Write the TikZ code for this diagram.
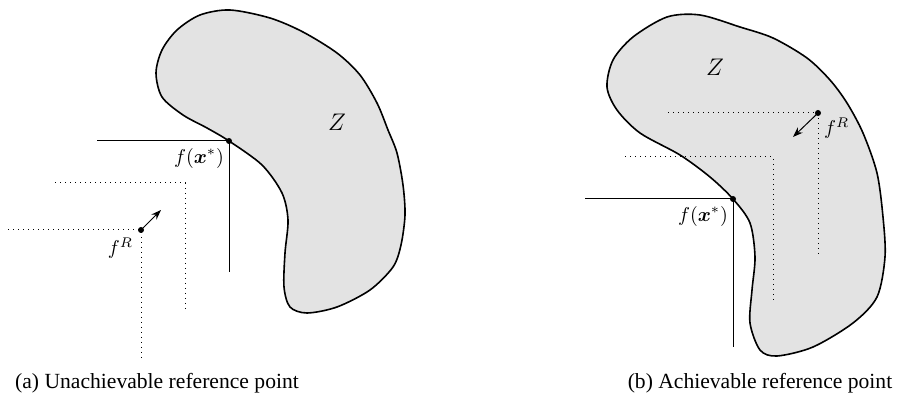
\documentclass[tikz,border=0pt]{standalone}
\usepackage{amsmath, amssymb}
\usepackage{fontspec}
\newfontfamily\capfont{Liberation Serif}
\usepackage{tikz}
\usetikzlibrary{positioning, calc, arrows.meta}
\newcommand{\fopt}{f(\boldsymbol{x}^*)}
\newcommand{\fref}{f^R}

\begin{document}
\begin{tikzpicture}[
  x=0.5pt, y=-0.5pt,
  every node/.style={font=\normalsize},
  region/.style={draw, line width=0.8pt, fill=black!11},
  dot/.style={circle, fill=black, inner sep=0pt, minimum size=3pt},
  bound/.style={line width=0.5pt},
  cone/.style={dotted, line width=0.5pt},
  move/.style={-{Stealth[length=5pt, width=3.6pt]}, line width=0.5pt},
  zlab/.style={font=\fontsize{13}{15}\selectfont},
  subcap/.style={font=\capfont\fontsize{10.8}{12}\selectfont},
]
  \useasboundingbox (0,0) rectangle (916,405);

  % (a) unachievable reference point
  \draw[region] plot[smooth cycle, tension=0.5] coordinates {
    (230,10) (270,18) (303,32) (337,53) (360,75) (377,103) (388,130)
    (397,153) (403,185) (405,215) (401,245) (393,267) (370,290) (337,307)
    (307,313) (290,307) (284,287) (285,253) (288,220) (282,193) (262,165)
    (229,141) (207,128) (183,115) (162,97) (156,73) (162,50) (177,30) (200,15)};
  \node[zlab] (za) at (337,122) {$Z$};

  \node[dot] (xa) at (229,141) {};
  \coordinate (xah) at (97,141);
  \coordinate (xav) at (229,272);
  \draw[bound] (xah) -- (xa.center) -- (xav);
  \node[anchor=north east] (xalab) at ([xshift=1pt]xa.center) {$\fopt$};

  \node[dot] (ra) at (141,230) {};
  \coordinate (rah) at (8,230);
  \coordinate (rav) at (141,358);
  \draw[cone] (rah) -- (ra.center) -- (rav);
  \coordinate (sa) at (185,183);
  \draw[cone] (55,183) -- (sa) -- (185,310);
  \coordinate (ta) at (161,210);
  \draw[move] (ra.center) -- (ta);
  \node[anchor=north east] (ralab) at ([xshift=-0.5pt, yshift=-0.5pt]ra.center) {$\fref$};

  % (b) achievable reference point
  \draw[region] plot[smooth cycle, tension=0.5] coordinates {
    (700,15) (740,27) (773,38) (807,58) (830,80) (847,103) (863,133)
    (877,173) (883,217) (885,257) (877,297) (853,323) (813,347) (777,356)
    (760,350) (750,323) (752,290) (755,257) (750,223) (733,199) (710,177)
    (680,155) (640,133) (617,110) (607,87) (613,60) (633,37) (667,17)};
  \node[zlab] (zb) at (715,67) {$Z$};

  \node[dot] (rb) at (818,113) {};
  \coordinate (rbh) at (668,113);
  \coordinate (rbv) at (818,257);
  \draw[cone] (rbh) -- (rb.center) -- (rbv);
  \coordinate (sb) at (773,157);
  \draw[cone] (625,157) -- (sb) -- (773,302);
  \coordinate (tb) at (793,137);
  \draw[move] (rb.center) -- (tb);
  \node[anchor=north west] (rblab) at ([xshift=-0.5pt, yshift=1pt]rb.center) {$\fref$};

  \node[dot] (xb) at (733,199) {};
  \coordinate (xbh) at (585,199);
  \coordinate (xbv) at (733,347);
  \draw[bound] (xbh) -- (xb.center) -- (xbv);
  \node[anchor=north east] (xblab) at ([xshift=1pt]xb.center) {$\fopt$};

  % Captions
  \node[subcap] (capa) at (157,383) {(a) Unachievable reference point};
  \node[subcap] (capb) at (760,383) {(b) Achievable reference point};
\end{tikzpicture}
\end{document}
